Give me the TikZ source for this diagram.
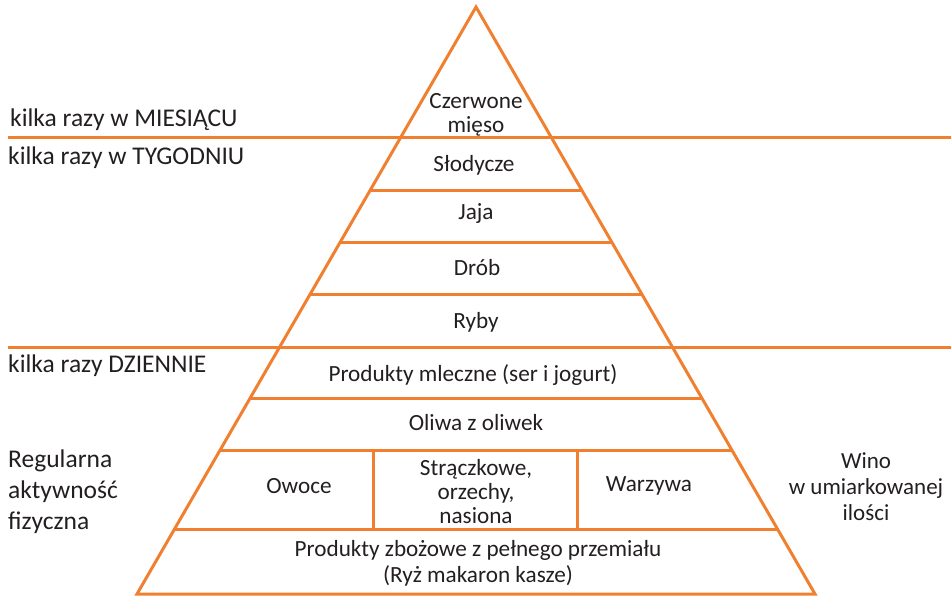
\documentclass[tikz,border=0pt]{standalone}
\usepackage{fontspec}
\setmainfont{Carlito}
\definecolor{pyr}{RGB}{240,128,48}
\definecolor{txt}{RGB}{35,31,32}
\begin{document}
\begin{tikzpicture}[x=1pt,y=-1pt,
  edge/.style={draw=pyr,line width=3pt},
  inlbl/.style={text=txt,font=\fontsize{23.2}{24}\selectfont,align=center,inner sep=0pt},
  sidelbl/.style={text=txt,font=\fontsize{25.5}{31}\selectfont,align=left,inner sep=0pt,anchor=west},
  winolbl/.style={text=txt,font=\fontsize{23}{26}\selectfont,align=center,inner sep=0pt}]
\useasboundingbox (0,0) rectangle (951,596);
% pyramid outline
\coordinate (apex) at (476,7);
\coordinate (bl) at (137,594);
\coordinate (br) at (815,594);
\draw[edge,line join=miter] (bl) -- (apex) -- (br) -- cycle;
% full width lines
\coordinate (m1) at (8,138);
\coordinate (m2) at (951,138);
\coordinate (d1) at (8,347);
\coordinate (d2) at (951,347);
\draw[edge] (m1) -- (m2);
\draw[edge] (d1) -- (d2);
% inner horizontal lines
\foreach \yy/\nm in {191/a,243/b,295/c,398/e,450/f,529/g}{
  \pgfmathsetmacro{\dx}{0.5775*(\yy-7)}
  \coordinate (L\nm) at ({476-\dx},\yy);
  \coordinate (R\nm) at ({476+\dx},\yy);
  \draw[edge] (L\nm) -- (R\nm);
}
% vertical separators
\coordinate (v1t) at (373,450);
\coordinate (v1b) at (373,529);
\coordinate (v2t) at (577,450);
\coordinate (v2b) at (577,529);
\draw[edge] (v1t) -- (v1b);
\draw[edge] (v2t) -- (v2b);
% pyramid labels
\node[inlbl] (mieso) at (476,115) {Czerwone\\mięso};
\node[inlbl] (slod) at (474,165) {Słodycze};
\node[inlbl] (jaja) at (476,214) {Jaja};
\node[inlbl] (drob) at (477,268) {Drób};
\node[inlbl] (ryby) at (476,322) {Ryby};
\node[inlbl] (mlecz) at (473,375) {Produkty mleczne (ser i jogurt)};
\node[inlbl] (oliwa) at (476,423) {Oliwa z oliwek};
\node[inlbl] (owoce) at (299,486) {Owoce};
\node[inlbl] (strac) at (476,492) {Strączkowe,\\orzechy,\\nasiona};
\node[inlbl] (warz) at (649,486) {Warzywa};
\node[inlbl,font=\fontsize{23.2}{26}\selectfont] (zboz) at (478,563) {Produkty zbożowe z pełnego przemiału\\(Ryż makaron kasze)};
% side labels
\node[sidelbl] (miesiac) at (10,120) {kilka razy w MIESIĄCU};
\node[sidelbl] (tydzien) at (8,158) {kilka razy w TYGODNIU};
\node[sidelbl] (dzien) at (8,366) {kilka razy DZIENNIE};
\node[sidelbl] (aktyw) at (8,492) {Regularna\\aktywność\\fizyczna};
\node[winolbl] (wino) at (866,487) {Wino\\w umiarkowanej\\ilości};
\end{tikzpicture}
\end{document}
